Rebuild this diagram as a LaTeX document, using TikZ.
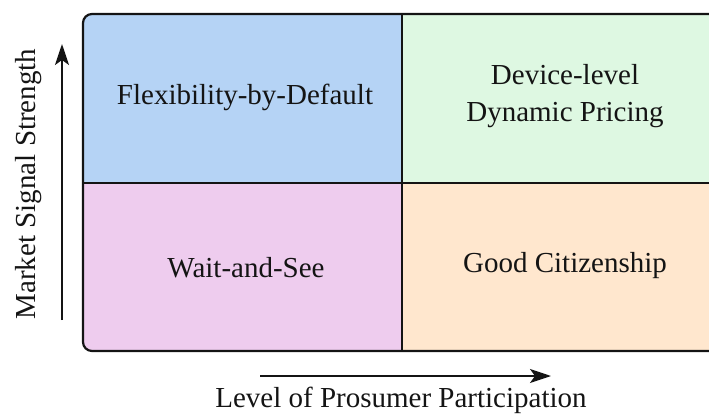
\documentclass[tikz,border=0pt]{standalone}
\usepackage{fontspec}
\setmainfont{Liberation Serif}
\usetikzlibrary{arrows.meta}
\definecolor{qblue}{RGB}{181,211,245}
\definecolor{qgreen}{RGB}{222,248,226}
\definecolor{qpink}{RGB}{238,204,238}
\definecolor{qpeach}{RGB}{255,231,206}
\definecolor{ink}{RGB}{20,20,20}
\tikzset{
  quadlabel/.style={font=\fontsize{29}{37}\selectfont, text=ink, align=center},
  axislabel/.style={font=\fontsize{29}{35}\selectfont, text=ink},
  axisarrow/.style={draw=ink, line width=2pt, -{Stealth[length=21pt,width=14pt,inset=5pt]}},
  gridline/.style={draw=ink, line width=2.2pt},
}
\begin{document}
\begin{tikzpicture}[x=1pt,y=-1pt]
\useasboundingbox (0,0) rectangle (709,414);
\clip (0,0) rectangle (709,414);
% quadrant fills inside the rounded frame
\begin{scope}
  \clip[rounded corners=9pt] (83,14) rectangle (721,351);
  \fill[qblue]  (83,14)   rectangle (402,183);
  \fill[qgreen] (402,14)  rectangle (721,183);
  \fill[qpink]  (83,183)  rectangle (402,351);
  \fill[qpeach] (402,183) rectangle (721,351);
\end{scope}
\draw[gridline, rounded corners=9pt] (83,14) rectangle (721,351);
\draw[gridline] (402,14) -- (402,351);
\draw[gridline] (83,183) -- (721,183);
% quadrant labels
\node[quadlabel] (flex) at (245,97) {Flexibility-by-Default};
\node[quadlabel] (dyn)  at (565,96) {Device-level\\Dynamic Pricing};
\node[quadlabel] (wait) at (246,268) {Wait-and-See};
\node[quadlabel] (good) at (565,266) {Good Citizenship};
% axes
\coordinate (xs) at (260,376);
\coordinate (xe) at (551,376);
\draw[axisarrow] (xs) -- (xe);
\node[axislabel, anchor=base] (xlab) at (401,407) {Level of Prosumer Participation};
\coordinate (ys) at (62,320);
\coordinate (ye) at (62,44);
\draw[axisarrow] (ys) -- (ye);
\node[axislabel, rotate=90, anchor=base] (ylab) at (35,184) {Market Signal Strength};
\end{tikzpicture}
\end{document}
